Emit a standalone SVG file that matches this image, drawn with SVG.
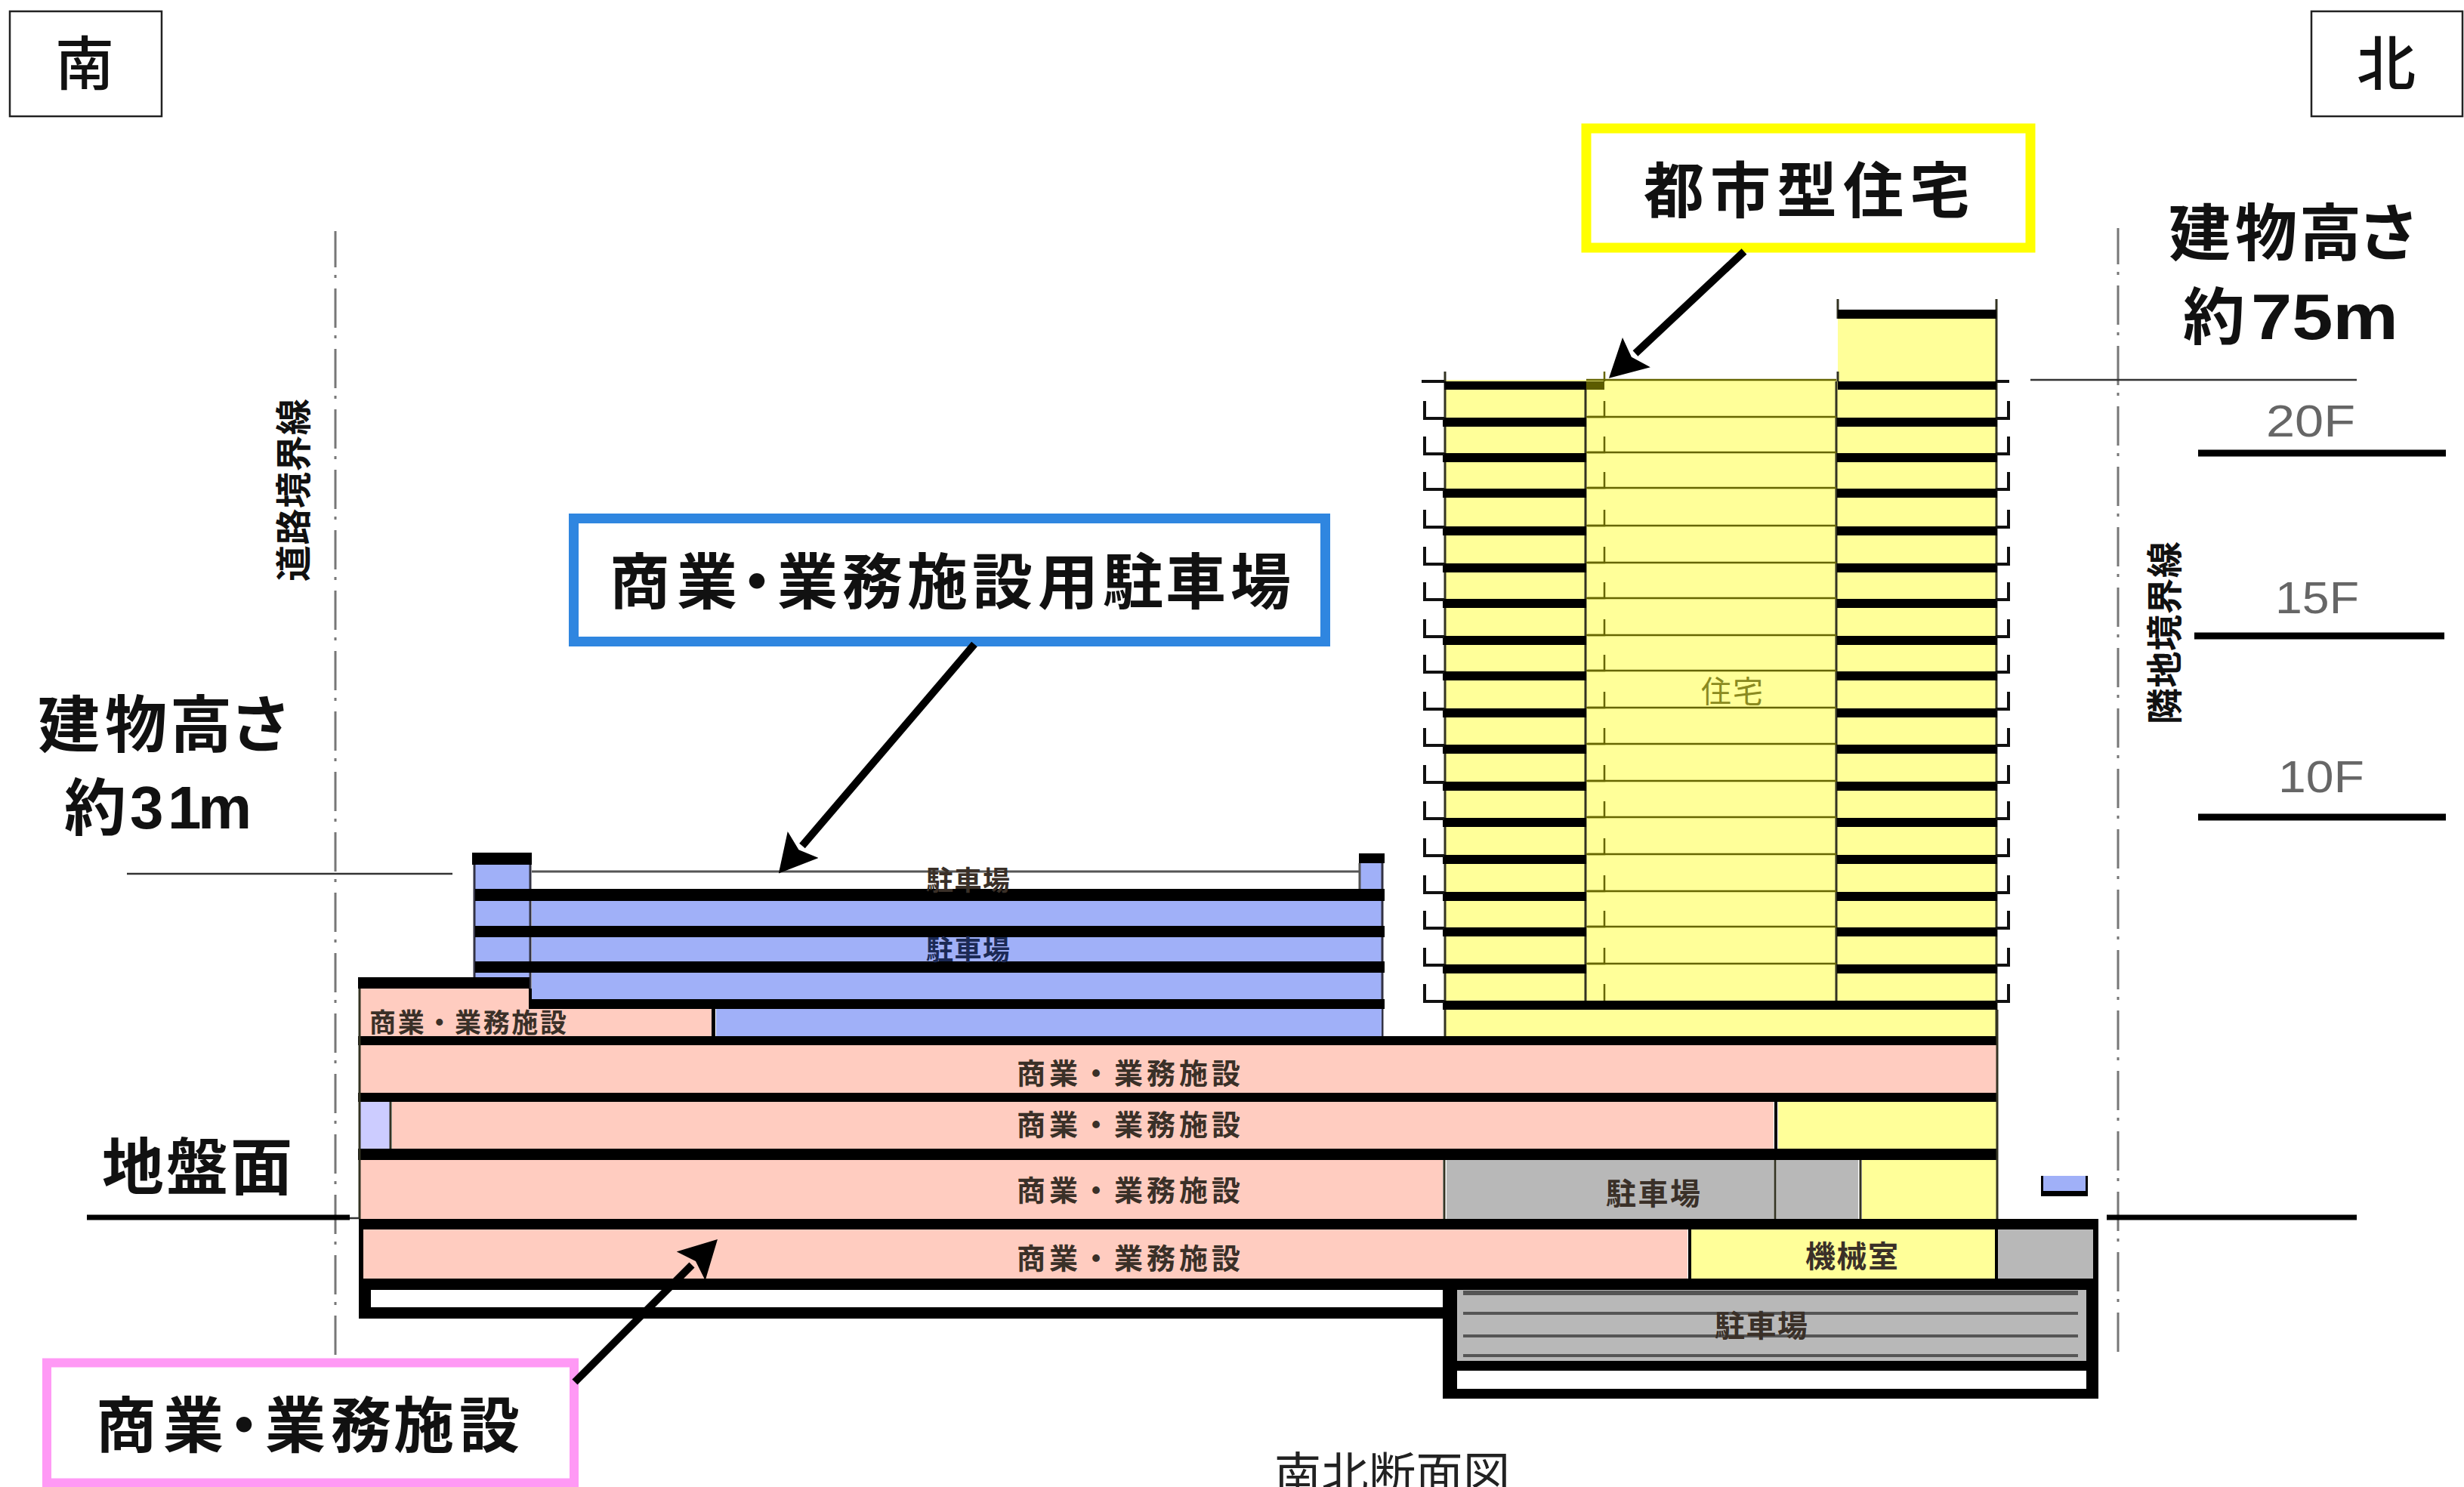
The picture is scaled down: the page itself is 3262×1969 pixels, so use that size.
<svg xmlns="http://www.w3.org/2000/svg" xmlns:xlink="http://www.w3.org/1999/xlink" width="3262" height="1969" viewBox="0 0 3262 1969">
<style>
text{font-family:"Noto Sans CJK JP","Noto Sans CJK SC",sans-serif;fill:#111}
.b{font-weight:700}
.m{font-weight:700;fill:#3a3028}
.k{fill:#000}
.y{fill:#ffff99}
.p{fill:#ffccc0}
.u{fill:#a0b0f8}
.g{fill:#b8b8b8}
.l{fill:#ccccff}
.w{fill:#fff}
.d{fill:none;stroke:#332;stroke-width:3}
.h{fill:none;stroke:#111;stroke-width:4}
.o{fill:none;stroke:#666600;stroke-width:2.5}
.c{fill:none;stroke:#777;stroke-width:3;stroke-dasharray:52 10 4 14;stroke-dashoffset:4}
.t{stroke:#333;stroke-width:2.5;fill:none}
.f{stroke:#000;stroke-width:9}
.fl{font-family:"Liberation Sans",sans-serif;font-size:60px;fill:#666}
.lat{font-family:"Liberation Sans",sans-serif}
.a{stroke:#000;stroke-width:10;fill:none}
</style>
<defs>
<marker id="head" markerUnits="userSpaceOnUse" markerWidth="50" markerHeight="54" refX="2" refY="27" orient="auto"><path d="M0 0L50 27L0 54L9 27Z" fill="#000"/></marker>
<g id="floor">
<rect class="k" x="1910" y="0" width="190" height="12"/>
<rect class="k" x="2432" y="0" width="212" height="12"/>
<path class="h" d="M1886 -22V1H1912M2659 -22V1H2642"/>
<path class="o" d="M2100 -1H2431"/>
<path class="o" d="M2102 -1H2124V-22"/>
</g>
</defs>
<rect class="w" width="3262" height="1969"/>

<g id="building">
<g id="tower">
<rect class="y" x="1914" y="503" width="730" height="869"/>
<rect class="y" x="2433" y="422" width="210" height="81"/>
<path class="d" d="M1913 492V1372M2099 505V1325M2431 505V1325M2643 396V1384M2433 396V422M2433 492V505"/>
<path class="o" d="M2124 492V505M2100 503H2431"/>
<rect class="k" x="2433" y="410" width="210" height="12"/>
<path class="h" d="M1882 505H1912M2642 505H2660"/>
<rect class="k" x="1912" y="505" width="190" height="11"/>
<rect fill="#5c5c00" x="2100" y="505" width="24" height="11"/>
<rect class="k" x="2433" y="505" width="210" height="11"/>
<use xlink:href="#floor" href="#floor" y="553"/>
<use xlink:href="#floor" href="#floor" y="600"/>
<use xlink:href="#floor" href="#floor" y="647"/>
<use xlink:href="#floor" href="#floor" y="697"/>
<use xlink:href="#floor" href="#floor" y="746"/>
<use xlink:href="#floor" href="#floor" y="793"/>
<use xlink:href="#floor" href="#floor" y="842"/>
<use xlink:href="#floor" href="#floor" y="889"/>
<use xlink:href="#floor" href="#floor" y="938"/>
<use xlink:href="#floor" href="#floor" y="986"/>
<use xlink:href="#floor" href="#floor" y="1035"/>
<use xlink:href="#floor" href="#floor" y="1083"/>
<use xlink:href="#floor" href="#floor" y="1132"/>
<use xlink:href="#floor" href="#floor" y="1181"/>
<use xlink:href="#floor" href="#floor" y="1228"/>
<use xlink:href="#floor" href="#floor" y="1277"/>
<rect class="k" x="1910" y="1325" width="734" height="12"/>
<path class="h" d="M1886 1303V1326H1912M2659 1303V1326H2642"/>
<path class="o" d="M2124 1325V1303"/>
<text x="2252" y="930" font-size="40" textLength="82" style="fill:#8a8a20">住宅</text>
</g>

<g id="parking-upper">
<rect class="u" x="629" y="1145" width="72" height="155"/>
<rect class="u" x="704" y="1193" width="1125" height="130"/>
<rect class="u" x="1801" y="1143" width="28" height="35"/>
<path class="d" d="M628 1145V1294M702 1145V1336M1830 1143V1372" style="stroke:#334"/>
<path class="d" d="M704 1154H1800M1800 1143V1177" style="stroke:#555"/>
<rect class="k" x="625" y="1129" width="79" height="16"/>
<rect class="k" x="1799" y="1130" width="34" height="13"/>
<rect class="k" x="629" y="1177" width="1204" height="16"/>
<rect class="k" x="629" y="1226" width="1204" height="15"/>
<rect class="k" x="629" y="1273" width="1204" height="15"/>
<text class="m" x="1226" y="1179" font-size="36" textLength="111">駐車場</text>
<text class="m" x="1226" y="1271" font-size="36" textLength="111" style="fill:#1c2a55">駐車場</text>
</g>

<g id="podium">
<rect class="p" x="477" y="1309" width="223" height="63"/>
<rect class="p" x="700" y="1336" width="242" height="36"/>
<rect class="u" x="948" y="1336" width="881" height="36"/>
<rect class="k" x="474" y="1294" width="227" height="15"/>
<rect class="k" x="700" y="1309" width="4" height="15"/>
<rect class="k" x="700" y="1323" width="1133" height="13"/>
<rect class="k" x="942" y="1336" width="5" height="36"/>
<rect class="k" x="474" y="1372" width="2170" height="12"/>
<rect class="p" x="477" y="1384" width="2167" height="63"/>
<rect class="k" x="474" y="1447" width="2170" height="12"/>
<rect class="l" x="477" y="1459" width="39" height="62"/>
<rect class="p" x="519" y="1459" width="1829" height="62"/>
<rect class="y" x="2354" y="1459" width="290" height="62"/>
<rect class="k" x="2349" y="1459" width="4" height="62"/>
<rect class="k" x="474" y="1521" width="2170" height="15"/>
<rect class="p" x="477" y="1536" width="1433" height="78"/>
<rect class="g" x="1915" y="1536" width="433" height="78"/>
<rect class="g" x="2352" y="1536" width="108" height="78"/>
<rect class="y" x="2465" y="1536" width="179" height="78"/>
<path class="d" d="M476 1309V1614M517 1459V1521M1912 1536V1614M2350 1536V1614M2463 1536V1614M2644 1337V1614"/>
<rect class="k" x="475" y="1614" width="2303" height="14"/>
<rect class="p" x="481" y="1628" width="1753" height="65"/>
<rect class="y" x="2239" y="1628" width="402" height="65"/>
<rect class="g" x="2645" y="1628" width="126" height="65"/>
<rect class="k" x="2235" y="1628" width="4" height="65"/>
<rect class="k" x="2641" y="1628" width="4" height="65"/>
<rect class="k" x="475" y="1628" width="6" height="65"/>
<rect class="k" x="2771" y="1628" width="7" height="65"/>
<rect class="k" x="475" y="1693" width="2303" height="15"/>
<rect class="k" x="475" y="1708" width="16" height="38"/>
<rect class="k" x="475" y="1731" width="1454" height="15"/>
<rect class="k" x="1910" y="1708" width="19" height="144"/>
<rect class="k" x="2762" y="1708" width="16" height="144"/>
<rect class="g" x="1929" y="1708" width="833" height="94"/>
<path d="M1937 1712H2751" stroke="#555" stroke-width="6"/>
<path d="M1937 1739H2751M1937 1769H2751M1937 1795H2751" stroke="#555" stroke-width="4"/>
<rect class="k" x="1910" y="1802" width="868" height="13"/>
<rect class="k" x="1910" y="1839" width="868" height="13"/>
<rect class="u" x="2704" y="1557" width="58" height="20"/>
<path class="k" d="M2702 1557H2705V1577H2761V1557H2764V1584H2702Z"/>
<text class="m" x="489" y="1367" font-size="35" textLength="261">商業・業務施設</text>
<text class="m" x="1346" y="1435" font-size="38" textLength="296">商業・業務施設</text>
<text class="m" x="1346" y="1503" font-size="38" textLength="296">商業・業務施設</text>
<text class="m" x="1346" y="1590" font-size="38" textLength="296">商業・業務施設</text>
<text class="m" x="1346" y="1680" font-size="38" textLength="296">商業・業務施設</text>
<text class="m" x="2126" y="1595" font-size="40" textLength="125">駐車場</text>
<text class="m" x="2390" y="1678" font-size="40" textLength="123">機械室</text>
<text class="m" x="2270" y="1770" font-size="40" textLength="123">駐車場</text>
</g>
</g>

<g id="boundaries">
<path class="c" d="M444 306V1795"/>
<path class="c" d="M2804 302V1793"/>
<path class="t" d="M168 1157H599"/>
<path class="t" d="M2688 503H3120"/>
<path class="f" d="M115 1612H463" style="stroke-width:7"/>
<path class="t" d="M463 1613H475"/>
<path class="f" d="M2789 1612H3120" style="stroke-width:7"/>
<text transform="translate(406 649) rotate(-90)" text-anchor="middle" font-size="48" font-weight="700" textLength="242">道路境界線</text>
<text transform="translate(2883 838) rotate(-90)" text-anchor="middle" font-size="48" font-weight="700" textLength="242">隣地境界線</text>
</g>

<g id="floor-scale">
<path class="f" d="M2910 600H3238"/>
<path class="f" d="M2905 842H3236"/>
<path class="f" d="M2910 1082H3238"/>
<text class="fl" x="3000" y="578" textLength="118" lengthAdjust="spacingAndGlyphs">20F</text>
<text class="fl" x="3012" y="812" textLength="111" lengthAdjust="spacingAndGlyphs">15F</text>
<text class="fl" x="3016" y="1049" textLength="114" lengthAdjust="spacingAndGlyphs">10F</text>
</g>

<g id="label-south"><rect x="13" y="15" width="201" height="139" fill="#fff" stroke="#222" stroke-width="2.5"/><text x="112" y="113" font-size="78" font-weight="500" text-anchor="middle">南</text></g>
<g id="label-north"><rect x="3060" y="15" width="200" height="139" fill="#fff" stroke="#222" stroke-width="2.5"/><text x="3159" y="113" font-size="78" font-weight="500" text-anchor="middle">北</text></g>

<g id="height-75"><text class="b" x="2871 2959 3044 3121" y="338" font-size="82">建物高さ</text><text class="b" y="449" font-size="82"><tspan x="2890">約</tspan><tspan class="lat" x="2980" font-size="85" textLength="195" lengthAdjust="spacingAndGlyphs">75m</tspan></text></g>
<g id="height-31"><text class="b" x="50 139 225 304" y="989" font-size="82">建物高さ</text><text class="b" y="1097" font-size="80"><tspan x="85" y="1099" font-size="82">約</tspan><tspan class="lat" x="172 222 262" y="1097">31m</tspan></text></g>
<g id="ground-level"><text class="b" x="135" y="1575" font-size="82" textLength="252">地盤面</text></g>

<g id="label-housing"><rect x="2100" y="170" width="588" height="158" fill="#fff" stroke="#ffff00" stroke-width="13"/><text class="b" x="2176" y="281" font-size="80" textLength="432">都市型住宅</text></g>
<g id="label-parking"><rect x="759.5" y="686.5" width="995" height="163" fill="#fff" stroke="#2f86e0" stroke-width="13"/><text class="b" x="807 896 962 1029 1115 1201 1287 1374 1460 1543 1629" y="799" font-size="80">商業・業務施設用駐車場</text></g>
<g id="label-commercial"><rect x="62" y="1804.5" width="698" height="159" fill="#fff" stroke="#ff99f5" stroke-width="12"/><text class="b" x="127 216 283 351 438 521 608" y="1916" font-size="80">商業・業務施設</text></g>

<g id="connectors">
<path class="a" d="M2309 333L2165 468" marker-end="url(#head)"/>
<path class="a" d="M1290 853L1062 1120" marker-end="url(#head)"/>
<path class="a" d="M761 1830L916 1675" marker-end="url(#head)"/>
</g>

<g id="caption"><text x="1687" y="1975" font-size="62" textLength="312" style="fill:#222">南北断面図</text></g>
</svg>
